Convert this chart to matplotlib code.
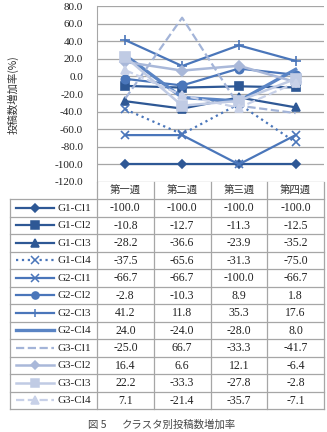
import matplotlib
matplotlib.use('Agg')
import matplotlib.pyplot as plt
from matplotlib.lines import Line2D

plt.rcParams['font.family'] = ['Liberation Serif', 'Noto Sans CJK JP']

# データ
semanas = ['第一週', '第二週', '第三週', '第四週']
series = ['G1-Cl1', 'G1-Cl2', 'G1-Cl3', 'G1-Cl4', 'G2-Cl1', 'G2-Cl2',
          'G2-Cl3', 'G2-Cl4', 'G3-Cl1', 'G3-Cl2', 'G3-Cl3', 'G3-Cl4']
g1_cl1 = [-100.0, -100.0, -100.0, -100.0]
g1_cl2 = [-10.8, -12.7, -11.3, -12.5]
g1_cl3 = [-28.2, -36.6, -23.9, -35.2]
g1_cl4 = [-37.5, -65.6, -31.3, -75.0]
g2_cl1 = [-66.7, -66.7, -100.0, -66.7]
g2_cl2 = [-2.8, -10.3, 8.9, 1.8]
g2_cl3 = [41.2, 11.8, 35.3, 17.6]
g2_cl4 = [24.0, -24.0, -28.0, 8.0]
g3_cl1 = [-25.0, 66.7, -33.3, -41.7]
g3_cl2 = [16.4, 6.6, 12.1, -6.4]
g3_cl3 = [22.2, -33.3, -27.8, -2.8]
g3_cl4 = [7.1, -21.4, -35.7, -7.1]
valores = [g1_cl1, g1_cl2, g1_cl3, g1_cl4, g2_cl1, g2_cl2,
           g2_cl3, g2_cl4, g3_cl1, g3_cl2, g3_cl3, g3_cl4]

# estilos (color, linestyle, marker, markersize, linewidth)
c1 = '#2E5895'
c2 = '#4A76BA'
estilos = [
    (c1, '-', 'D', 4.5, 1.6),
    (c1, '-', 's', 6, 1.6),
    (c1, '-', '^', 6, 1.6),
    (c2, ':', 'x', 6, 1.6),
    (c2, '-', 'x', 6, 1.6),
    (c2, '-', 'o', 6, 1.6),
    (c2, '-', '+', 7, 1.6),
    ('#5A84C4', '-', None, 0, 2.4),
    ('#A3B4D8', '--', None, 0, 1.6),
    ('#A9B8D9', '-', 'D', 5, 1.8),
    ('#C0CBE4', '-', 's', 7, 1.8),
    ('#C8D1E8', '--', '^', 6, 1.6),
]

W, H = 327, 432
fig = plt.figure(figsize=(W / 100, H / 100), dpi=100)

x0, x1 = 97, 324
ytop, ybot = 6, 182
ax = fig.add_axes([x0 / W, 1 - ybot / H, (x1 - x0) / W, (ybot - ytop) / H])
xs = list(range(len(semanas)))
for vals, (col, ls, mk, ms, lw) in zip(valores, estilos):
    ax.plot(xs, vals, color=col, linestyle=ls, marker=mk, markersize=ms,
            linewidth=lw, markeredgewidth=1.2)
ax.set_xlim(-0.5, 3.5)
ax.set_ylim(-120, 80)
ax.set_yticks(range(-120, 81, 20))
ax.set_yticklabels([f'{v:.1f}' for v in range(-120, 81, 20)], fontsize=8, color='#222222')
ax.set_xticks([])
ax.yaxis.grid(True, color='#A6A6A6', linewidth=0.9)
ax.set_axisbelow(True)
ax.tick_params(axis='y', length=0, pad=10)
for s in ['top', 'right', 'bottom']:
    ax.spines[s].set_visible(False)
ax.spines['left'].set_color('#A6A6A6')

# tabla de datos
ov = fig.add_axes([0, 0, 1, 1])
ov.set_xlim(0, W)
ov.set_ylim(H, 0)
ov.axis('off')
ov.text(13, 95, '投稿数増加率(%)', rotation=90, ha='center', va='center', fontsize=7.5,
        family=['Noto Sans CJK JP'], color='#333333')
gris = '#A6A6A6'
cols = [x0 + i * (x1 - x0) / 4 for i in range(5)]
yh0, yh1 = 182, 199
rh = 17.5
yend = yh1 + rh * len(series)
lx = 10
for cx in cols:
    ov.plot([cx, cx], [yh0, yend], color=gris, lw=0.9)
ov.plot([lx, lx], [yh1, yend], color=gris, lw=0.9)
for i, s in enumerate(semanas):
    ov.text((cols[i] + cols[i + 1]) / 2, (yh0 + yh1) / 2 + 0.5, s, ha='center', va='center',
            fontsize=7.5, family=['Noto Sans CJK JP'], color='#333333')
for r in range(len(series) + 1):
    yy = yh1 + r * rh
    ov.plot([lx, x1], [yy, yy], color=gris, lw=0.9)
for r, (nombre, vals, (col, ls, mk, ms, lw)) in enumerate(zip(series, valores, estilos)):
    yc = yh1 + r * rh + rh / 2
    ov.add_line(Line2D([16, 54], [yc, yc], color=col, linestyle=ls, linewidth=lw))
    if mk is not None:
        ov.plot([35], [yc], color=col, marker=mk, markersize=ms * 0.85, markeredgewidth=1.1)
    ov.text(58, yc + 0.5, nombre, ha='left', va='center', fontsize=8, color='#222222')
    for i, v in enumerate(vals):
        ov.text((cols[i] + cols[i + 1]) / 2, yc + 0.5, f'{v:.1f}', ha='center', va='center',
                fontsize=8.5, color='#222222')

ov.text(88, 425, '図 5', ha='left', va='center', fontsize=7.5,
        family=['Noto Sans CJK JP'], color='#444444')
ov.text(122, 425, 'クラスタ別投稿数増加率', ha='left', va='center', fontsize=7.5,
        family=['Noto Sans CJK JP'], color='#444444')

fig.savefig('out.png', dpi=100)
